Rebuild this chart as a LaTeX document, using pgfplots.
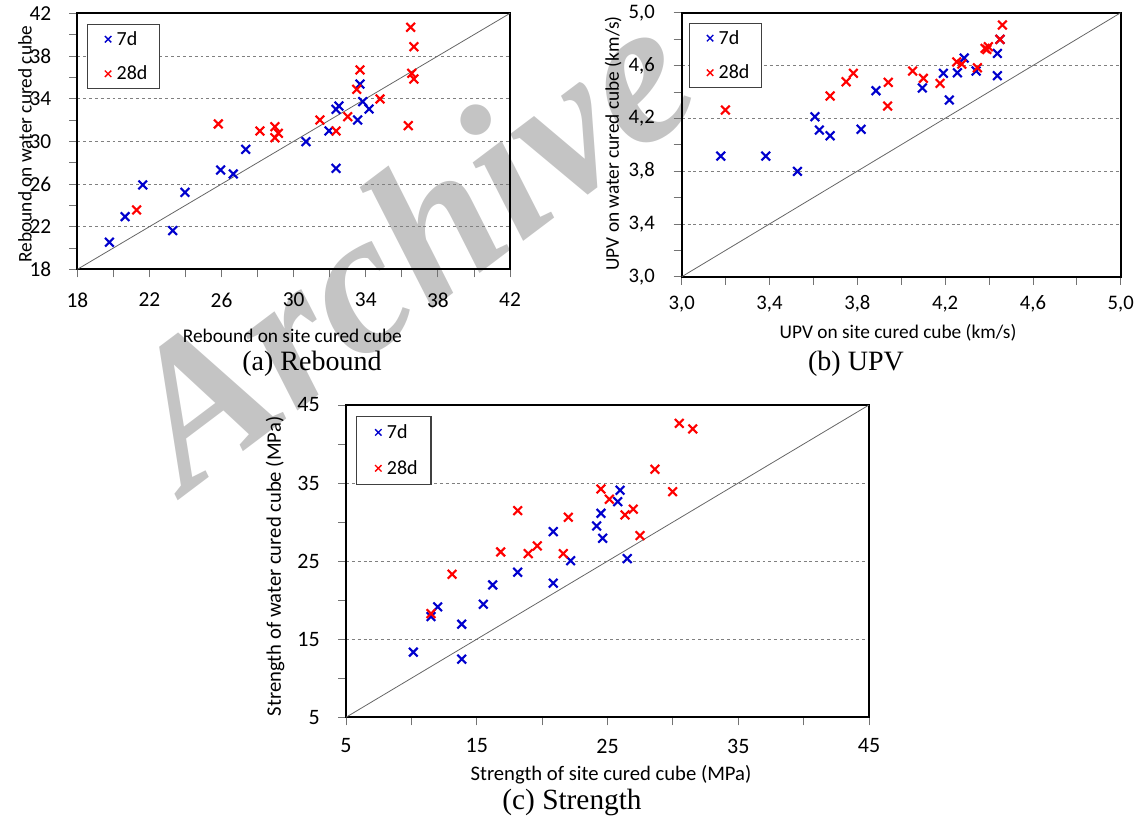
\documentclass[border=0pt]{standalone}
\usepackage{pgfplots}
\pgfplotsset{compat=1.18}
\usepackage{fontspec}
\setmainfont{Carlito}
\newfontfamily\capfont{Liberation Serif}
\definecolor{myblue}{RGB}{0,0,205}
\definecolor{myred}{RGB}{255,0,0}
\definecolor{wm}{RGB}{196,196,196}

\pgfplotsset{
  common/.style={
    scale only axis,
    axis line style={line width=1.6pt, black},
    tick align=outside,
    xtick pos=lower, ytick pos=left,
    major tick length=6pt, minor tick length=6pt,
    every tick/.style={black!55, line width=0.6pt},
    minor tick num=1,
    ymajorgrids,
    major grid style={gray, line width=0.6pt, dash pattern=on 2.2pt off 2.2pt},
    /pgf/number format/assume math mode=true,
    yticklabel style={anchor=east, inner sep=0pt},
    xticklabel style={anchor=center, inner sep=0pt},
    legend cell align=left,
    legend style={draw=black!75, line width=0.8pt, anchor=north west,
      inner xsep=7pt, inner ysep=3pt, row sep=10pt,
      font=\fontsize{15}{17}\selectfont},
    legend image code/.code={\path (0pt,0pt) (12pt,0pt); \draw[#1] plot coordinates {(8pt,0pt)};},
    legend image post style={mark size=3.4pt, mark options={line width=1pt}},
  },
  s7/.style={only marks, mark=x, mark size=4.6pt, color=myblue, mark options={line width=1.6pt}},
  s28/.style={only marks, mark=x, mark size=4.6pt, color=myred, mark options={line width=1.6pt}},
  diag/.style={black!60, line width=0.6pt, forget plot},
}

\begin{document}
\begin{tikzpicture}
\useasboundingbox (0,0) rectangle (855pt,614.25pt);
% watermark
\node[rotate=37, anchor=base west, text=wm, inner sep=0pt,
  font=\capfont\bfseries\itshape\fontsize{152}{152}\selectfont] at (140pt,243pt) {Archive};

% (a) Rebound
\begin{axis}[common, at={(58pt,412.25pt)}, anchor=south west,
  width=324.5pt, height=192pt,
  xmin=18, xmax=42, ymin=18, ymax=42,
  xtick={18,22,26,30,34,38,42}, ytick={18,22,26,30,34,38,42},
  tick label style={font=\fontsize{16}{18}\selectfont},
  xticklabel style={yshift=-17pt},
  yticklabel style={xshift=-13.4pt},
  xlabel={Rebound on site cured cube},
  ylabel={Rebound on water cured cube},
  label style={font=\fontsize{14.5}{17}\selectfont},
  xlabel style={at={(axis description cs:0.497,-0.2605)}, anchor=center},
  ylabel style={at={(axis description cs:-0.1209,0.489)}, anchor=center},
  legend style={at={(axis description cs:0.0224,0.958)}},
]
\addplot[diag] coordinates {(18,18) (42,42)};
\addplot[s7] coordinates {
(19.78,20.54) (20.65,22.94) (21.63,25.91) (23.29,21.63) (23.97,25.22)
(25.95,27.31) (26.65,26.94) (27.34,29.25) (30.68,29.97) (31.96,30.97)
(32.35,27.47) (32.35,33.00) (32.51,33.31) (33.55,32.00) (33.68,35.37)
(33.83,33.72) (34.18,33.03)};
\addlegendentry{7d}
\addplot[s28] coordinates {
(21.29,23.57) (25.82,31.63) (28.13,30.97) (28.96,31.37) (29.15,30.75)
(28.96,30.34) (31.46,32.00) (32.35,30.97) (33.00,32.31) (33.50,34.88)
(33.68,36.69) (34.79,33.97) (36.49,40.69) (36.67,38.87) (36.55,36.38)
(36.67,35.84) (36.36,31.47)};
\addlegendentry{28d}
\end{axis}

% (b) UPV
\begin{axis}[common, at={(511.3pt,406.7pt)}, anchor=south west,
  width=329.25pt, height=198pt,
  xmin=3, xmax=5, ymin=3, ymax=5,
  xtick={3,3.4,3.8,4.2,4.6,5}, ytick={3,3.4,3.8,4.2,4.6,5},
  /pgf/number format/.cd, use comma, fixed, fixed zerofill, precision=1, /pgfplots/.cd,
  tick label style={font=\fontsize{15.5}{18}\selectfont},
  xticklabel style={yshift=-14.5pt},
  yticklabel style={xshift=-14pt},
  xlabel={UPV on site cured cube (km/s)},
  ylabel={UPV on water cured cube (km/s)},
  label style={font=\fontsize{14.5}{17}\selectfont},
  xlabel style={at={(axis description cs:0.4927,-0.2133)}, anchor=center},
  ylabel style={at={(axis description cs:-0.1565,0.5045)}, anchor=center},
  legend style={at={(axis description cs:0.0166,0.961)}},
]
\addplot[diag] coordinates {(3,3) (5,5)};
\addplot[s7] coordinates {
(3.178,3.914) (3.383,3.914) (3.527,3.798) (3.607,4.212) (3.627,4.111)
(3.676,4.068) (3.817,4.117) (3.885,4.409) (4.096,4.430) (4.192,4.541)
(4.219,4.339) (4.256,4.545) (4.287,4.657) (4.341,4.558) (4.438,4.523)
(4.438,4.692) (4.450,4.798)};
\addlegendentry{7d}
\addplot[s28] coordinates {
(3.199,4.263) (3.676,4.369) (3.749,4.477) (3.782,4.541) (3.941,4.473)
(3.938,4.293) (4.052,4.558) (4.101,4.503) (4.177,4.465) (4.253,4.627)
(4.276,4.611) (4.347,4.583) (4.382,4.730) (4.397,4.742) (4.390,4.722)
(4.450,4.798) (4.461,4.907)};
\addlegendentry{28d}
\end{axis}

% (c) Strength
\begin{axis}[common, at={(259.5pt,76.3pt)}, anchor=south west,
  width=392.25pt, height=234.2pt,
  xmin=5, xmax=45, ymin=5, ymax=45,
  xtick={5,15,25,35,45}, ytick={5,15,25,35,45},
  tick label style={font=\fontsize{16.5}{19}\selectfont},
  xticklabel style={yshift=-15.5pt},
  yticklabel style={xshift=-13.5pt},
  xlabel={Strength of site cured cube (MPa)},
  ylabel={Strength of water cured cube (MPa)},
  label style={font=\fontsize{15.5}{18}\selectfont},
  xlabel style={at={(axis description cs:0.5067,-0.1848)}, anchor=center},
  ylabel style={at={(axis description cs:-0.1358,0.483)}, anchor=center},
  legend style={at={(axis description cs:0.019,0.965)}, inner xsep=8pt, inner ysep=4pt, row sep=11pt},
]
\addplot[diag] coordinates {(5,5) (45,45)};
\addplot[s7] coordinates {
(10.15,13.34) (11.50,17.90) (12.01,19.14) (13.85,16.92) (13.85,12.44)
(15.50,19.48) (16.22,21.95) (18.13,23.58) (20.85,28.78) (20.85,22.17)
(22.18,25.06) (24.17,29.51) (24.50,31.13) (24.63,27.93) (25.78,32.62)
(25.96,34.08) (26.51,25.32)};
\addlegendentry{7d}
\addplot[s28] coordinates {
(11.50,18.28) (13.11,23.32) (16.83,26.18) (18.13,31.47) (18.94,25.96)
(19.63,26.95) (21.62,25.96) (22.00,30.62) (24.50,34.24) (25.14,32.93)
(26.34,30.92) (26.97,31.65) (27.49,28.27) (28.63,36.77) (29.98,33.90)
(30.49,42.65) (31.52,41.93)};
\addlegendentry{28d}
\end{axis}

% captions
\node[font=\capfont\fontsize{21}{24}\selectfont, anchor=center] at (234pt,341.25pt) {(a) Rebound};
\node[font=\capfont\fontsize{21}{24}\selectfont, anchor=center] at (642pt,341.25pt) {(b) UPV};
\node[font=\capfont\fontsize{22}{25}\selectfont, anchor=center] at (429pt,12.5pt) {(c) Strength};
\end{tikzpicture}
\end{document}
